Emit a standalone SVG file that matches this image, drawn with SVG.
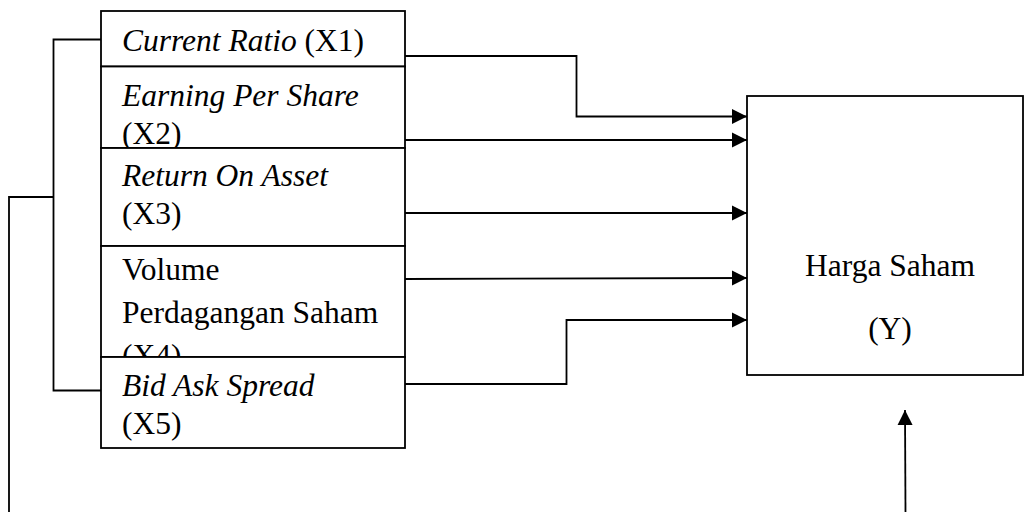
<svg xmlns="http://www.w3.org/2000/svg" width="1024" height="512" viewBox="0 0 1024 512">
<style>
.box{fill:#fff;stroke:#000;stroke-width:1.8}
.t{font-family:"Liberation Serif","Times New Roman",serif;font-size:31.5px;fill:#000}
.i{font-family:"Liberation Serif","DejaVu Serif","Times New Roman",serif;font-style:italic}
.ln{fill:none;stroke:#000;stroke-width:1.8}
</style>
<defs>
<marker id="ah" markerWidth="16" markerHeight="16" refX="15" refY="8" orient="auto" markerUnits="userSpaceOnUse">
<path d="M0,0.5 L15,8 L0,15.5 Z" fill="#000"/>
</marker>
<clipPath id="c4"><rect x="101" y="246" width="304" height="111"/></clipPath>
</defs>
<rect width="1024" height="512" fill="#fff"/>
<g id="connectors">
<polyline class="ln" points="101,39.5 53.5,39.5 53.5,390.5 101,390.5"/>
<polyline class="ln" points="53.5,197 9,197 9,512"/>
<polyline class="ln" points="405,56 576.5,56 576.5,116.5 747,116.5" marker-end="url(#ah)"/>
<line class="ln" x1="405" y1="140" x2="747" y2="140" marker-end="url(#ah)"/>
<line class="ln" x1="405" y1="213" x2="747" y2="213" marker-end="url(#ah)"/>
<line class="ln" x1="405" y1="279" x2="747" y2="278" marker-end="url(#ah)"/>
<polyline class="ln" points="405,384 566.5,384 566.5,320 747,320" marker-end="url(#ah)"/>
<line class="ln" x1="905.5" y1="512" x2="905" y2="410" marker-end="url(#ah)"/>
</g>
<g id="x1">
<rect class="box" x="101" y="11" width="304" height="55.5"/>
<text class="t" x="122" y="50.7"><tspan class="i">Current Ratio</tspan> (X1)</text>
</g>
<g id="x2">
<rect class="box" x="101" y="66.5" width="304" height="81.5"/>
<text class="t i" x="122" y="105.7">Earning Per Share</text>
<text class="t" x="122" y="143.5">(X2)</text>
</g>
<g id="x3">
<rect class="box" x="101" y="148" width="304" height="98"/>
<text class="t i" x="122" y="186">Return On Asset</text>
<text class="t" x="122" y="224">(X3)</text>
</g>
<g id="x4">
<rect class="box" x="101" y="246" width="304" height="111"/>
<text class="t" x="122" y="280">Volume</text>
<text class="t" x="122" y="322.7">Perdagangan Saham</text>
<text class="t" x="122" y="365.5" clip-path="url(#c4)">(X4)</text>
</g>
<g id="x5">
<rect class="box" x="101" y="357" width="304" height="91"/>
<text class="t i" x="122" y="396">Bid Ask Spread</text>
<text class="t" x="122" y="434">(X5)</text>
</g>
<g id="y">
<rect class="box" x="747" y="96" width="276" height="279"/>
<text class="t" x="890" y="275.7" text-anchor="middle">Harga Saham</text>
<text class="t" x="890" y="339" text-anchor="middle">(Y)</text>
</g>
</svg>
